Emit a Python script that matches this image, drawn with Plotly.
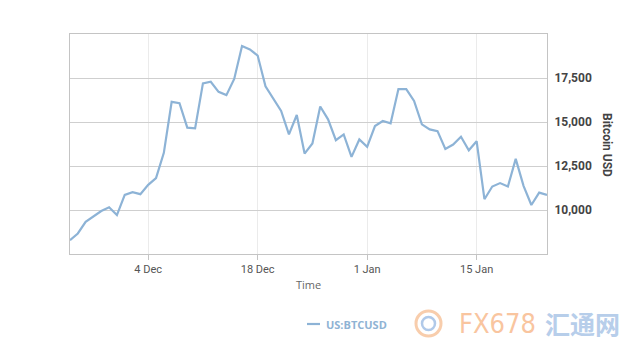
import plotly.graph_objects as go
import pandas as pd

start_date = "2017-11-24"
btc_usd = [8283, 8666, 9330, 9616, 9943, 10155, 9714, 10859, 11013, 10899,
           11431, 11815, 13246, 16143, 16069, 14677, 14637, 17196, 17288, 16715,
           16527, 17443, 19315, 19120, 18776, 17025, 16298, 15628, 14294, 15399,
           13206, 13779, 15880, 15153, 13967, 14294, 13017, 14008, 13590, 14769,
           15055, 14924, 16870, 16870, 16200, 14866, 14580, 14483, 13475, 13721,
           14162, 13395, 13910, 10613, 11334, 11529, 11334, 12903, 11374, 10286,
           10990, 10859]
dates = pd.date_range(start_date, periods=len(btc_usd), freq="D")
series_name = "US:BTCUSD"

x_ticks = ["2017-12-04", "2017-12-18", "2018-01-01", "2018-01-15"]
x_tick_labels = ["4 Dec", "18 Dec", "1 Jan", "15 Jan"]
y_ticks = [10000, 12500, 15000, 17500]
y_tick_labels = ["10,000", "12,500", "15,000", "17,500"]

line_color = "#8db3d6"

fig = go.Figure()
fig.add_trace(go.Scatter(
    x=dates, y=btc_usd, mode="lines", name=series_name,
    line=dict(color=line_color, width=2.2), showlegend=False,
))

# the page has an 8px body margin, so the figure is 632x348 and offsets are reduced by 8
fig.update_layout(
    width=632, height=348,
    margin=dict(l=62, r=93, t=26, b=102, autoexpand=False),
    paper_bgcolor="white", plot_bgcolor="white",
    font=dict(family="Roboto", color="#444444", size=11),
    showlegend=False,
    xaxis=dict(
        type="date",
        range=["2017-11-24", "2018-01-24"],
        tickvals=x_ticks, ticktext=x_tick_labels,
        showgrid=True, gridcolor="#ebebeb", gridwidth=1,
        showline=True, linecolor="#c4c4c4", linewidth=1, mirror=True,
        ticks="outside", ticklen=5, tickcolor="#c4c4c4",
        tickfont=dict(family="Roboto", size=11, color="#555555"),
        title=dict(text="Time", font=dict(family="Open Sans", size=11, color="#666666"),
                   standoff=6),
        zeroline=False,
    ),
    yaxis=dict(
        side="right",
        range=[7500, 20000],
        tickvals=y_ticks, ticktext=y_tick_labels,
        showgrid=True, gridcolor="#cfcfcf", gridwidth=1,
        showline=True, linecolor="#c4c4c4", linewidth=1, mirror=True,
        ticks="", ticklabelstandoff=4,
        tickfont=dict(family="Roboto", size=12, color="#444444", weight="bold"),
        zeroline=False,
    ),
)

fig.add_annotation(
    text="Bitcoin USD", xref="paper", yref="paper", x=(607 - 70) / 477, y=(254 - 145) / 220,
    textangle=90, showarrow=False, xanchor="center", yanchor="middle",
    font=dict(family="Roboto", size=12, color="#444444", weight="bold"),
)

# legend (drawn manually to match the short legend line)
fig.add_shape(type="line", xref="paper", yref="paper",
              x0=(307 - 70) / 477, x1=(320 - 70) / 477,
              y0=(254 - 324) / 220, y1=(254 - 324) / 220,
              line=dict(color=line_color, width=2.2))
fig.add_annotation(
    text=series_name, xref="paper", yref="paper", x=(324 - 70) / 477, y=(254 - 324) / 220,
    xanchor="left", yanchor="middle", showarrow=False,
    font=dict(family="Open Sans", size=11, color="#8fb3d4", weight="bold"),
)

# watermark
fig.add_shape(type="circle", xref="paper", yref="paper",
              x0=(416 - 70) / 477, x1=(441 - 70) / 477,
              y0=(254 - 336) / 220, y1=(254 - 311) / 220,
              line=dict(color="#f6b98a", width=3), opacity=0.7)
fig.add_shape(type="circle", xref="paper", yref="paper",
              x0=(422 - 70) / 477, x1=(435 - 70) / 477,
              y0=(254 - 330) / 220, y1=(254 - 317) / 220,
              line=dict(color="#8fb3e0", width=2.5), opacity=0.7)
fig.add_annotation(
    text="FX678", xref="paper", yref="paper", x=(457 - 70) / 477, y=(254 - 323) / 220,
    xanchor="left", yanchor="middle", showarrow=False,
    font=dict(family="DejaVu Sans Condensed, Roboto", size=27, color="#f7b27f"), opacity=0.75,
)
fig.add_annotation(
    text="汇通网", xref="paper", yref="paper", x=(543 - 70) / 477, y=(254 - 323) / 220,
    xanchor="left", yanchor="middle", showarrow=False,
    font=dict(family="Noto Sans CJK SC", size=25, color="#a6c2e6", weight="bold"), opacity=0.8,
)

fig.write_html("out.html")
